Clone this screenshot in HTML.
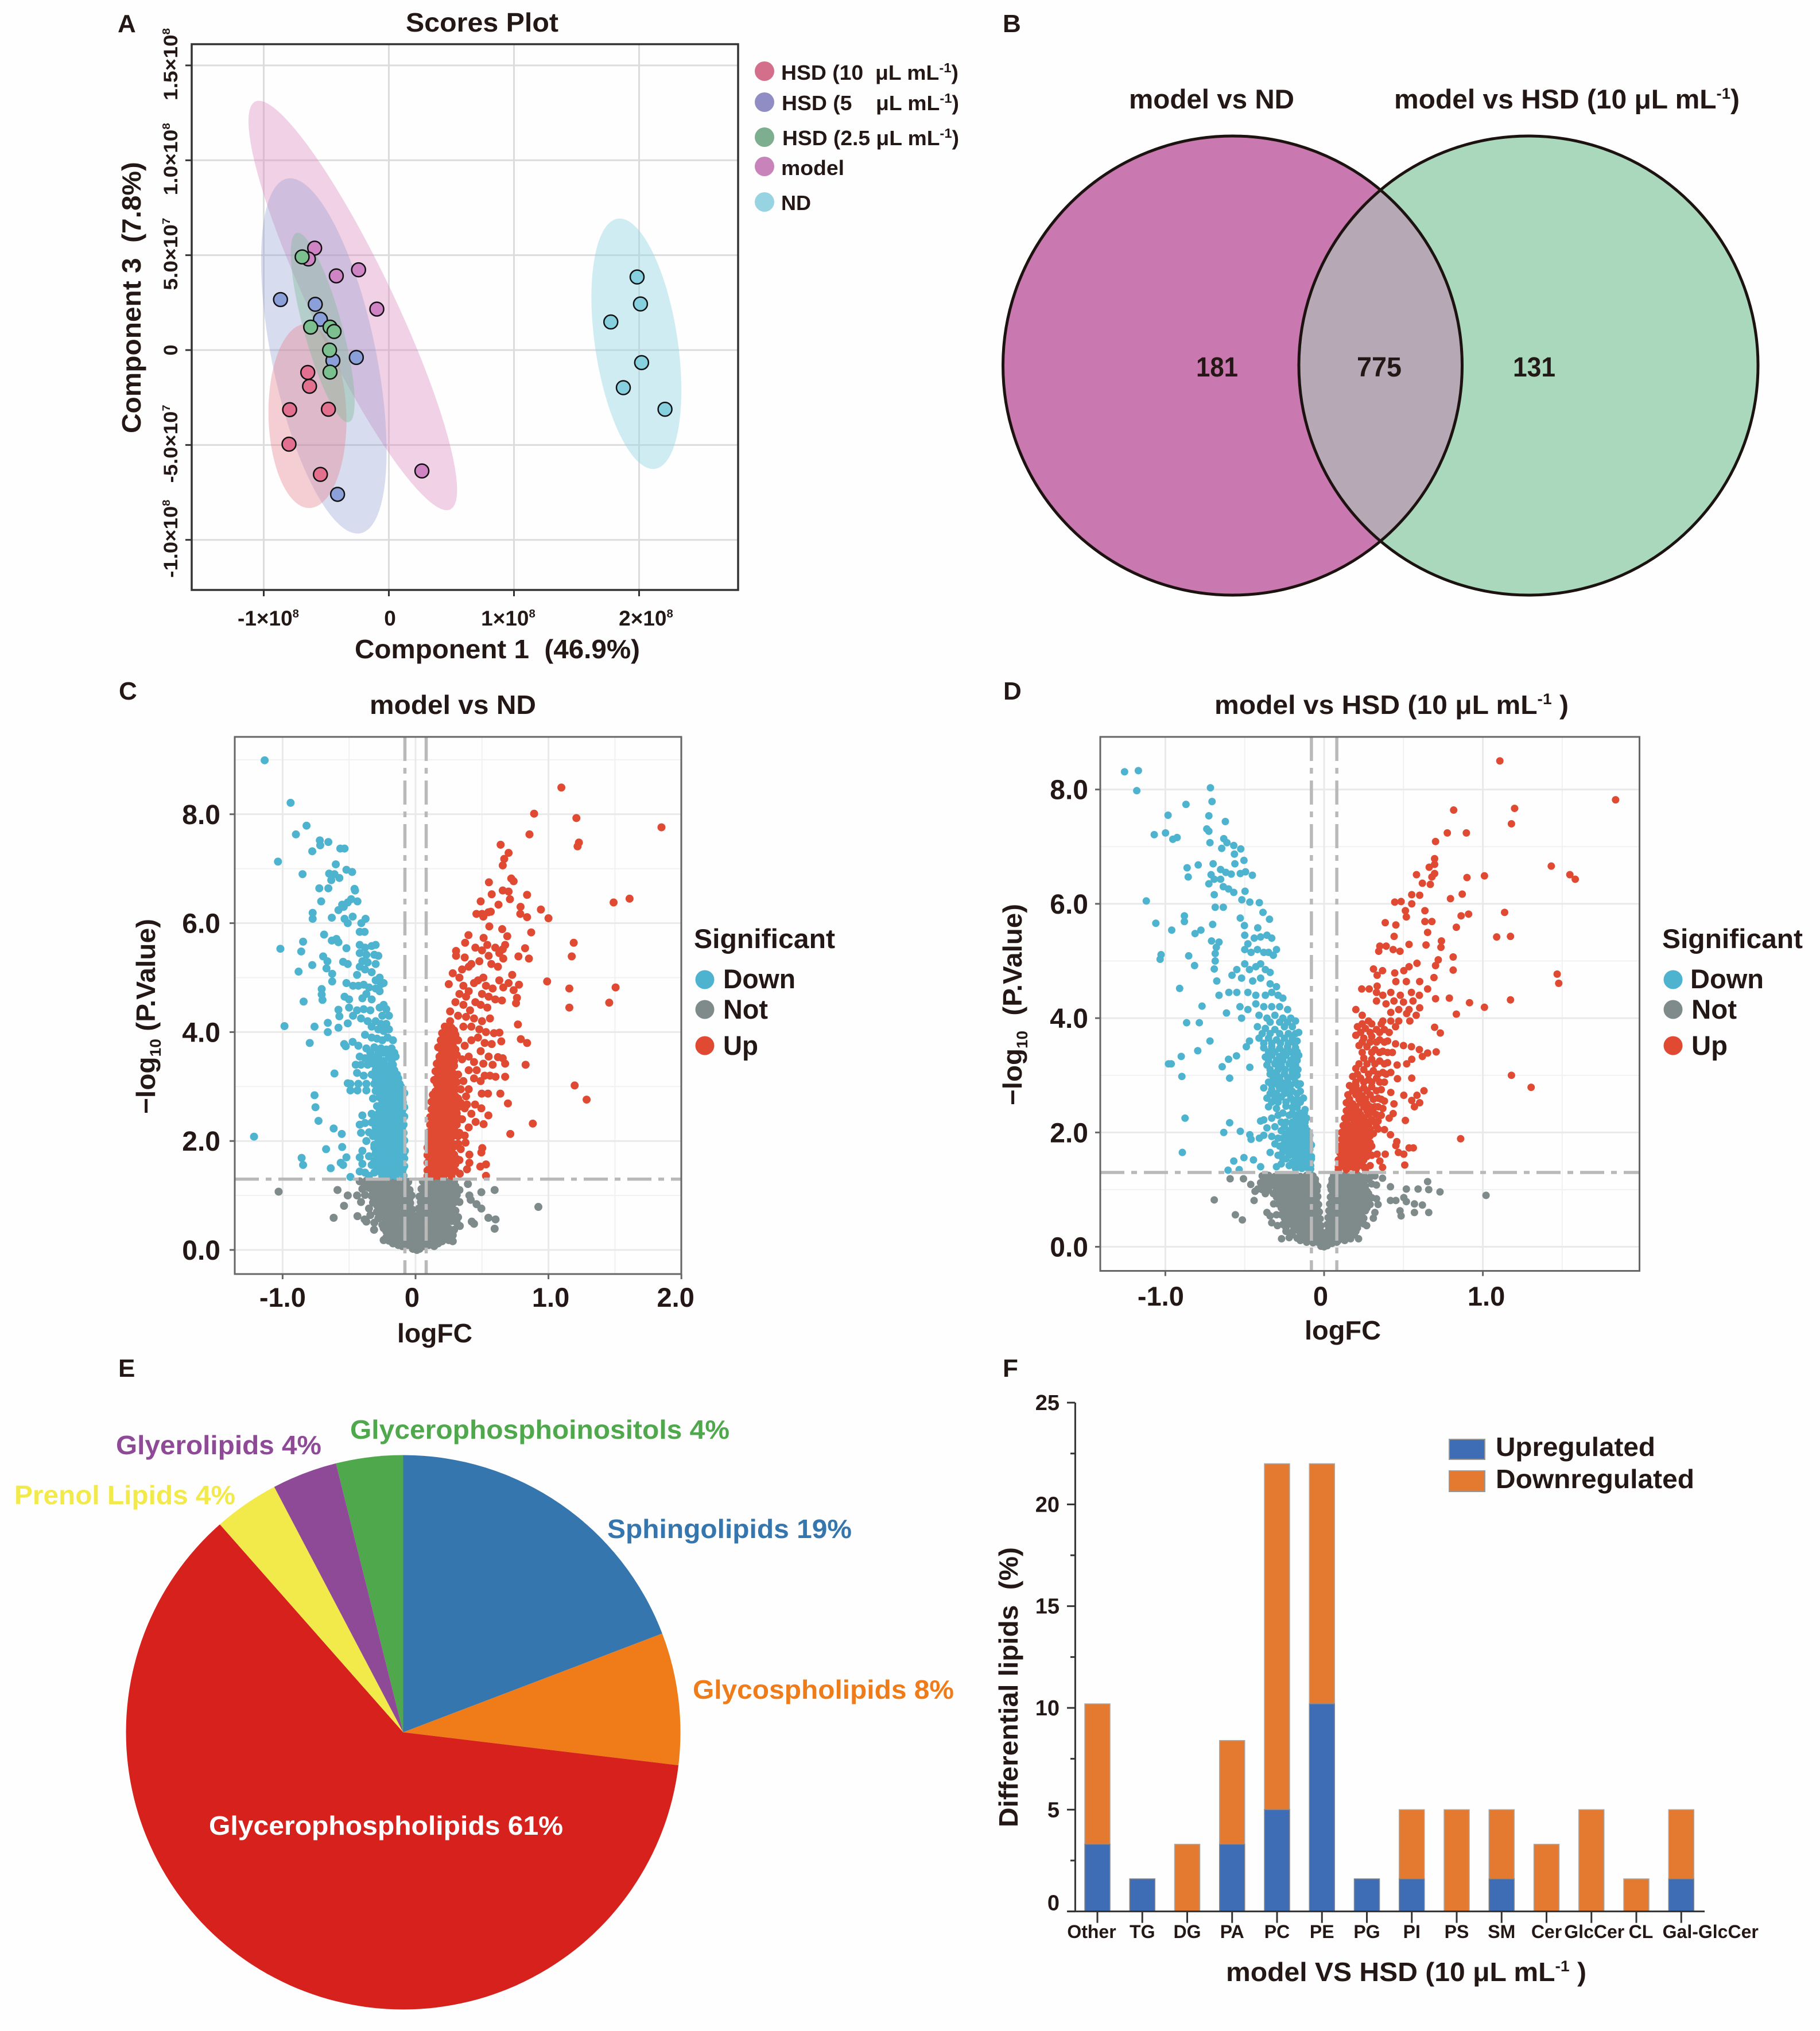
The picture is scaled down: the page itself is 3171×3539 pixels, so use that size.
<!DOCTYPE html>
<html lang="en"><head><meta charset="utf-8"><title>Lipidomics figure</title>
<style>
html,body{margin:0;padding:0;background:#fff}
svg{display:block}
text{font-family:"Liberation Sans",sans-serif;font-weight:bold;fill:#231815}
</style></head><body>
<svg id="fig" xmlns="http://www.w3.org/2000/svg" width="3171" height="3539" viewBox="0 0 3171 3539">
<rect width="3171" height="3539" fill="#fefefe"/>

<!-- Panel letters -->
<text x="205" y="56" font-size="44">A</text>
<text x="1747" y="56" font-size="44">B</text>
<text x="207" y="1219" font-size="44">C</text>
<text x="1748" y="1219" font-size="44">D</text>
<text x="206" y="2399" font-size="44">E</text>
<text x="1747" y="2399" font-size="44">F</text>

<!-- Panel A static -->
<g id="panelA"></g>
<text x="707" y="55" font-size="46" textLength="266" lengthAdjust="spacingAndGlyphs">Scores Plot</text>
<text x="618" y="1147" font-size="46" textLength="497" lengthAdjust="spacingAndGlyphs">Component 1&#160;&#160;(46.9%)</text>
<text transform="translate(245 755) rotate(-90)" x="0" y="0" font-size="46" textLength="473" lengthAdjust="spacingAndGlyphs">Component 3&#160;&#160;(7.8%)</text>
<g font-size="36">
<ellipse cx="1332" cy="124" rx="17" ry="17" fill="#d46f8b"/>
<ellipse cx="1332" cy="178" rx="17" ry="17" fill="#8f8dc4"/>
<ellipse cx="1332" cy="239" rx="17" ry="17" fill="#7dae8f"/>
<ellipse cx="1332" cy="290" rx="17" ry="17" fill="#c884ba"/>
<ellipse cx="1332" cy="352" rx="17" ry="17" fill="#98d3e2"/>
<text x="1361" y="139" textLength="309" lengthAdjust="spacingAndGlyphs">HSD (10&#160;&#160;μL mL<tspan dy="-13" font-size="23">-1</tspan><tspan dy="13">)</tspan></text>
<text x="1362" y="192" textLength="309" lengthAdjust="spacingAndGlyphs">HSD (5&#160;&#160;&#160;&#160;μL mL<tspan dy="-13" font-size="23">-1</tspan><tspan dy="13">)</tspan></text>
<text x="1363" y="253" textLength="308" lengthAdjust="spacingAndGlyphs">HSD (2.5 μL mL<tspan dy="-13" font-size="23">-1</tspan><tspan dy="13">)</tspan></text>
<text x="1361" y="305" textLength="110" lengthAdjust="spacingAndGlyphs">model</text>
<text x="1361" y="366" textLength="52" lengthAdjust="spacingAndGlyphs">ND</text>
</g>

<!-- Panel B Venn -->
<g>
<defs><clipPath id="vennClip"><circle cx="2147.5" cy="637" r="400"/></clipPath></defs>
<circle cx="2147.5" cy="637" r="400" fill="#c978b0"/>
<circle cx="2663" cy="637" r="400" fill="#a9d8bd"/>
<circle cx="2663" cy="637" r="400" fill="#b6a8b4" clip-path="url(#vennClip)"/>
<circle cx="2147.5" cy="637" r="400" fill="none" stroke="#1c1210" stroke-width="5"/>
<circle cx="2663" cy="637" r="400" fill="none" stroke="#1c1210" stroke-width="5"/>
<text x="1967" y="189" font-size="47" textLength="288" lengthAdjust="spacingAndGlyphs">model vs ND</text>
<text x="2429" y="189" font-size="47" textLength="602" lengthAdjust="spacingAndGlyphs">model vs HSD (10 μL mL<tspan dy="-17" font-size="27">-1</tspan><tspan dy="17">)</tspan></text>
<text x="2084" y="656" font-size="48" textLength="73" lengthAdjust="spacingAndGlyphs">181</text>
<text x="2364" y="656" font-size="48" textLength="78" lengthAdjust="spacingAndGlyphs">775</text>
<text x="2636" y="656" font-size="48" textLength="74" lengthAdjust="spacingAndGlyphs">131</text>
</g>

<!-- Panel C static -->
<g id="panelC"></g>
<text x="644" y="1244" font-size="46" textLength="290" lengthAdjust="spacingAndGlyphs">model vs ND</text>
<text x="692" y="2339" font-size="46" textLength="131" lengthAdjust="spacingAndGlyphs">logFC</text>
<text transform="translate(270 1941) rotate(-90)" font-size="46" textLength="340" lengthAdjust="spacingAndGlyphs">−log<tspan dy="10" font-size="27">10</tspan><tspan dy="-10">&#160;(P.Value)</tspan></text>
<g font-size="47">
<text x="1209" y="1652" textLength="246" lengthAdjust="spacingAndGlyphs">Significant</text>
<circle cx="1228" cy="1707" r="16.5" fill="#4db3cf"/>
<circle cx="1228" cy="1759" r="16.5" fill="#7f8a8a"/>
<circle cx="1228" cy="1822" r="16.5" fill="#e04a33"/>
<text x="1260" y="1722" textLength="126" lengthAdjust="spacingAndGlyphs">Down</text>
<text x="1260" y="1775" textLength="78" lengthAdjust="spacingAndGlyphs">Not</text>
<text x="1260" y="1838" textLength="61" lengthAdjust="spacingAndGlyphs">Up</text>
</g>

<!-- Panel D static -->
<g id="panelD"></g>
<text x="2116" y="1244" font-size="46" textLength="617" lengthAdjust="spacingAndGlyphs">model vs HSD (10 μL mL<tspan dy="-17" font-size="27">-1</tspan><tspan dy="17">&#160;)</tspan></text>
<text x="2273" y="2334" font-size="46" textLength="133" lengthAdjust="spacingAndGlyphs">logFC</text>
<text transform="translate(1780 1926) rotate(-90)" font-size="46" textLength="351" lengthAdjust="spacingAndGlyphs">−log<tspan dy="10" font-size="27">10</tspan><tspan dy="-10">&#160;&#160;(P.Value)</tspan></text>
<g font-size="47">
<text x="2896" y="1652" textLength="245" lengthAdjust="spacingAndGlyphs">Significant</text>
<circle cx="2915" cy="1707" r="16.5" fill="#4db3cf"/>
<circle cx="2915" cy="1759" r="16.5" fill="#7f8a8a"/>
<circle cx="2915" cy="1822" r="16.5" fill="#e04a33"/>
<text x="2945" y="1722" textLength="128" lengthAdjust="spacingAndGlyphs">Down</text>
<text x="2947" y="1775" textLength="79" lengthAdjust="spacingAndGlyphs">Not</text>
<text x="2947" y="1838" textLength="63" lengthAdjust="spacingAndGlyphs">Up</text>
</g>

<!-- Panel E -->
<g id="panelE"></g>
<g font-size="46">
<text x="610" y="2507" textLength="661" lengthAdjust="spacingAndGlyphs" style="fill:#4fa84c">Glycerophosphoinositols 4%</text>
<text x="202" y="2534" textLength="358" lengthAdjust="spacingAndGlyphs" style="fill:#8e4a97">Glyerolipids 4%</text>
<text x="25" y="2621" textLength="385" lengthAdjust="spacingAndGlyphs" style="fill:#f2e94a">Prenol Lipids 4%</text>
<text x="1058" y="2680" textLength="426" lengthAdjust="spacingAndGlyphs" style="fill:#3476ad">Sphingolipids 19%</text>
<text x="1207" y="2960" textLength="455" lengthAdjust="spacingAndGlyphs" style="fill:#ef7c19">Glycospholipids 8%</text>
<text x="364" y="3197" textLength="617" lengthAdjust="spacingAndGlyphs" style="fill:#fff">Glycerophospholipids 61%</text>
</g>

<!-- Panel F -->
<g id="panelF"></g>
<text x="2136" y="3452" font-size="46" textLength="628" lengthAdjust="spacingAndGlyphs">model VS HSD (10 μL mL<tspan dy="-17" font-size="27">-1</tspan><tspan dy="17">&#160;)</tspan></text>
<text transform="translate(1773 3184) rotate(-90)" font-size="46" textLength="488" lengthAdjust="spacingAndGlyphs">Differential lipids&#160;&#160;(%)</text>
<g font-size="46">
<rect x="2525" y="2508" width="62" height="35" fill="#3f6db5" stroke="#999" stroke-width="2"/>
<rect x="2525" y="2563" width="62" height="36" fill="#e37a30" stroke="#999" stroke-width="2"/>
<text x="2606" y="2537" textLength="278" lengthAdjust="spacingAndGlyphs">Upregulated</text>
<text x="2606" y="2593" textLength="346" lengthAdjust="spacingAndGlyphs">Downregulated</text>
</g>
</svg>

<script>
/* ===== Panel A data (scores, units of 1e8) ===== */
const scoreXTicks=[-1,0,1,2];
const scoreXLabels=['-1×10^8','0','1×10^8','2×10^8'];
const scoreYTicks=[1.5,1,0.5,0,-0.5,-1];
const scoreYLabels=['1.5×10^8','1.0×10^8','5.0×10^7','0','-5.0×10^7','-1.0×10^8'];
const scoreGroups=['ND','model','HSD5','HSD10','HSD2.5'];
const scoresND=[[1.984,0.385],[2.011,0.243],[1.774,0.148],[2.02,-0.066],[1.874,-0.198],[2.207,-0.312]];
const scoresModel=[[-0.593,0.537],[-0.643,0.48],[-0.42,0.391],[-0.242,0.423],[-0.096,0.216],[0.264,-0.637]];
const scoresHSD5=[[-0.866,0.266],[-0.588,0.241],[-0.547,0.162],[-0.447,-0.055],[-0.26,-0.039],[-0.41,-0.76]];
const scoresHSD10=[[-0.648,-0.118],[-0.634,-0.191],[-0.793,-0.314],[-0.483,-0.312],[-0.798,-0.496],[-0.547,-0.655]];
const scoresHSD25=[[-0.693,0.491],[-0.625,0.121],[-0.47,0.121],[-0.438,0.098],[-0.474,0],[-0.47,-0.116]];

/* ===== Panel C data ===== */
const cXTicks=[-1,0,1,2];
const cXLabels=['-1.0','0','1.0','2.0'];
const cYTicks=[0,2,4,6,8];
const cYLabels=['0.0','2.0','4.0','6.0','8.0'];
const cDown=[[-1.135,8.99],[-.94,8.21],[-.82,7.79],[-.9,7.63],[-1.035,7.13],[-.85,6.9],[-.72,7.52],[-.717,7.43],[-.656,7.49],[-.777,7.32],[-.566,7.37],[-.534,7.37],[-.6,7.08],[-.52,6.98],[-.477,6.94],[-.65,6.91],[-.61,6.9],[-.573,6.83],[-.634,6.79],[-.724,6.64],[-.656,6.64],[-.459,6.63],[-.455,6.6],[-.71,6.4],[-.552,6.34],[-.437,6.4],[-.484,6.44],[-.51,6.38],[-.54,6.3],[-.58,6.24],[-.774,6.19],[-.774,6.08],[-.63,6.1],[-.473,6.12],[-.376,6.08],[-.534,6.08],[-.51,6],[-.408,6],[-.383,5.84],[-.42,5.84],[-.688,5.79],[-.846,5.66],[-1.017,5.53],[-.86,5.48],[-.63,5.68],[-.595,5.71],[-.58,5.65],[-.88,5.11],[-.777,5.23],[-.695,5.39],[-.663,5.3],[-.67,5.17],[-.627,5.07],[-.627,4.93],[-.545,5.29],[-.51,5.25],[-.52,5.54],[-.842,4.56],[-.986,4.11],[-.76,4.1],[-.66,4.17],[-.66,4],[-.706,4.79],[-.706,4.69],[-.7,4.59],[-.796,3.8],[-.58,4.41],[-.573,4.29],[-.58,4.08],[-.51,4.16],[-.534,4.65],[-.537,3.78],[-.525,3.74],[-.473,3.82],[-.61,3.24],[-.76,2.84],[-.753,2.62],[-.73,2.37],[-.616,2.23],[-.555,2.13],[-1.215,2.08],[-.857,1.69],[-.846,1.56],[-.673,1.85],[-.552,1.89],[-.638,1.5],[-.563,1.6],[-.52,1.7],[-.545,1.56],[-.49,1.34],[-.51,3.06],[-.49,3.05],[-.49,2.93],[-.437,2.93],
[-.42,5.6],[-.38,5.55],[-.33,5.58],[-.3,5.6],[-.42,5.45],[-.37,5.42],[-.31,5.42],[-.28,5.4],[-.4,5.3],[-.36,5.28],[-.3,5.25],[-.42,5.2],[-.38,5.15],[-.44,5.05],[-.33,5.1],
[-.52,4.9],[-.47,4.85],[-.43,4.85],[-.39,4.87],[-.35,4.82],[-.3,4.95],[-.27,5],[-.26,4.88],[-.3,4.8],[-.24,4.9],[-.27,4.75],[-.37,4.7],[-.4,4.62],[-.33,4.6],[-.5,4.6],
[-.5,4.45],[-.44,4.4],[-.39,4.42],[-.34,4.4],[-.27,4.45],[-.24,4.5],[-.22,4.42],[-.25,4.3],[-.2,4.3],[-.47,4.3],[-.41,4.25],[-.36,4.2],[-.3,4.2],[-.26,4.15],[-.22,4.15],[-.33,4.1],[-.28,4.05],[-.24,4.02],[-.2,4.05],
[-.38,3.95],[-.33,3.9],[-.29,3.88],[-.25,3.85],[-.21,3.9],[-.17,3.85],[-.43,3.75],[-.37,3.7],[-.31,3.72],[-.26,3.7],[-.22,3.68],[-.18,3.7],[-.42,3.55],[-.38,3.52],[-.33,3.55],[-.28,3.55],[-.2,3.55],[-.15,3.55],
[-.45,3.4],[-.41,3.4],[-.36,3.4],[-.32,3.42],[-.27,3.4],[-.22,3.38],[-.17,3.4],[-.44,3.25],[-.39,3.2],[-.33,3.22],[-.28,3.25],[-.23,3.22],[-.18,3.25],[-.14,3.22],[-.43,3.05],[-.37,3.05],[-.31,3.05],[-.26,3.08],[-.21,3.08],[-.16,3.05],[-.12,3.05],
[-.37,2.93],[-.3,2.92],[-.25,2.94],[-.2,2.92],[-.16,2.93],[-.12,2.9],[-.085,2.88],[-.32,2.78],[-.27,2.8],[-.22,2.77],[-.18,2.79],[-.14,2.76],[-.1,2.78],[-.29,2.64],[-.25,2.62],[-.2,2.65],[-.16,2.63],[-.12,2.64],[-.085,2.62],[-.4,2.47],[-.33,2.5],[-.29,2.48],[-.24,2.5],[-.19,2.47],[-.15,2.49],[-.11,2.48],[-.085,2.45],[-.42,2.3],[-.38,2.33],[-.33,2.34],[-.28,2.32],[-.24,2.34],[-.2,2.32],[-.16,2.33],[-.12,2.31],[-.09,2.3],[-.41,2.15],[-.35,2.16],[-.3,2.18],[-.26,2.17],[-.21,2.18],[-.17,2.16],[-.13,2.17],[-.09,2.15],[-.37,2],[-.28,2.03],[-.24,2.01],[-.2,2.03],[-.16,2],[-.12,2.02],[-.085,2.01],[-.4,1.82],[-.31,1.88],[-.26,1.86],[-.22,1.87],[-.18,1.85],[-.14,1.86],[-.1,1.85],[-.08,1.82],[-.42,1.7],[-.35,1.72],[-.29,1.72],[-.25,1.71],[-.2,1.72],[-.16,1.7],[-.12,1.71],[-.085,1.68],[-.4,1.58],[-.33,1.56],[-.28,1.56],[-.23,1.58],[-.19,1.55],[-.15,1.57],[-.11,1.56],[-.085,1.54],[-.42,1.44],[-.38,1.42],[-.31,1.42],[-.27,1.44],[-.22,1.42],[-.18,1.43],[-.14,1.41],[-.1,1.43],[-.09,1.36],[-.35,1.36],[-.25,1.36],[-.2,1.35],[-.15,1.36]];
const cDownCoreRows=[[1.49,[-.29,-.25,-.2,-.16,-.12,-.095]],[1.63,[-.31,-.27,-.23,-.18,-.14,-.1]],[1.78,[-.3,-.24,-.2,-.16,-.12,-.09]],[1.93,[-.31,-.26,-.22,-.18,-.14,-.1]],[2.09,[-.32,-.28,-.23,-.19,-.15,-.11]],[2.25,[-.3,-.26,-.22,-.18,-.14,-.1]],[2.41,[-.31,-.27,-.22,-.17,-.13,-.095]],[2.56,[-.27,-.22,-.18,-.14,-.1]],[2.71,[-.25,-.2,-.16,-.12,-.095]],[2.85,[-.27,-.23,-.18,-.14,-.11]],[3,[-.29,-.24,-.18,-.14,-.11]],[3.15,[-.3,-.25,-.2,-.16,-.13]],[3.3,[-.3,-.25,-.2,-.16]],[3.47,[-.35,-.3,-.24,-.18]],[3.62,[-.34,-.28,-.24,-.2,-.16]]];
const cUp=[[1.097,8.49],[.892,8.01],[1.21,7.93],[1.85,7.76],[.857,7.63],[1.229,7.48],[1.219,7.41],[.64,7.44],[.7,7.29],[.667,7.18],[.656,7.06],[.552,6.75],[.72,6.82],[.738,6.77],[.656,6.6],[.7,6.58],[.839,6.52],[.573,6.53],[.49,6.4],[.624,6.34],[.71,6.44],[1.49,6.38],[1.61,6.45],[.943,6.25],[1,6.09],[.79,6.3],[.839,6.11],[.788,6.17],[.458,6.17],[.5,6.17],[.548,6.2],[.566,6.21],[.51,6.12],[.555,5.94],[.652,5.89],[.87,5.83],[.69,5.76],[.398,5.78],[.512,5.73],[.373,5.64],[1.19,5.64],[1.175,5.39],[.824,5.54],[.774,5.39],[.853,5.35],[.674,5.6],[.656,5.52],[.305,5.49],[.305,5.4],[.37,5.37],[.99,4.93],[1.505,4.82],[1.157,4.8],[1.457,4.54],[1.157,4.45],[.727,5.05],[.778,4.87],[.738,4.77],[.763,4.63],[.756,4.53],[.77,4.14],[.792,3.87],[.839,3.8],[.828,3.4],[1.197,3.02],[1.287,2.76],[.882,2.32],[.713,2.13],[.695,2.69],[.638,2.87],[.498,2.87],[.545,2.87],[.674,3.18],[.602,3.18],[.656,3.52],[.674,3.42],[.62,3.54],[.631,3.99],[.645,3.83],[.573,3.78],[.548,2.47],[.512,2.31],[.452,2.35],[.495,2.6],[.448,2.67],[.387,2.67],[.502,1.87],[.495,1.79],[.376,1.97],[.487,1.53],[.53,1.57],[.53,1.36],[.405,1.75],[.387,1.48],[.405,1.6],[.333,1.4],
[.45,5.55],[.5,5.5],[.54,5.6],[.6,5.55],[.63,5.45],[.55,5.4],[.48,5.3],[.42,5.25],[.35,5.15],[.28,5.08],[.33,5],[.4,5.2],[.57,5.25],[.62,5.2],[.66,5.35],[.51,5],[.47,4.95],[.53,4.85],[.58,4.8],[.63,4.95],[.66,4.82],[.7,4.9],[.36,4.85],[.4,4.75],[.44,4.9],[.25,4.88],[.33,4.7],[.38,4.65],[.5,4.7],[.55,4.65],[.6,4.6],[.65,4.58],[.45,4.55],[.49,4.5],[.54,4.45],[.3,4.55],[.36,4.5],[.41,4.4],[.26,4.38],[.32,4.3],[.38,4.28],[.44,4.25],[.5,4.2],[.56,4.25],[.42,4.1],[.48,4.05],[.53,4],[.59,3.98],[.36,4.1],[.47,3.9],[.52,3.8],[.42,3.85],[.37,3.75],[.49,3.65],[.55,3.55],[.4,3.55],[.44,3.45],[.51,3.42],[.58,3.4],[.35,3.5],[.46,3.3],[.52,3.2],[.4,3.3],[.36,3.1],[.44,3.15],[.49,3.1],[.56,3.2],[.34,2.95],[.4,2.95],[.38,2.82],[.32,2.62],[.37,2.6],[.42,2.5],[.35,2.4],[.4,2.25],[.33,2.15],[.37,2.1],[.34,1.85],[.29,1.75],[.33,1.65],
[.26,4.2],[.22,4.1],[.27,4.08],[.2,3.98],[.25,3.95],[.3,3.95],[.19,3.85],[.23,3.82],[.28,3.8],[.32,3.85],[.17,3.72],[.21,3.68],[.26,3.66],[.3,3.68],[.18,3.55],[.22,3.55],[.27,3.52],[.31,3.58],[.16,3.42],[.2,3.4],[.25,3.4],[.29,3.38],[.15,3.28],[.19,3.25],[.23,3.27],[.28,3.25],[.32,3.22],[.14,3.12],[.18,3.12],[.22,3.14],[.27,3.1],[.31,3.08],[.17,2.98],[.21,2.97],[.26,2.98],[.3,2.95],[.13,2.85],[.17,2.84],[.22,2.85],[.26,2.84],[.3,2.82],[.12,2.72],[.16,2.7],[.2,2.72],[.25,2.7],[.29,2.68],[.34,2.7],[.12,2.58],[.16,2.57],[.21,2.58],[.25,2.56],[.29,2.55],[.11,2.44],[.15,2.44],[.2,2.45],[.24,2.43],[.28,2.44],[.32,2.42],[.11,2.3],[.15,2.3],[.19,2.32],[.23,2.3],[.27,2.29],[.31,2.3],[.1,2.16],[.14,2.16],[.18,2.17],[.22,2.16],[.26,2.15],[.3,2.15],[.1,2.02],[.14,2.03],[.18,2.03],[.22,2.02],[.26,2.01],[.09,1.88],[.13,1.88],[.17,1.89],[.21,1.88],[.25,1.87],[.29,1.9],[.09,1.74],[.13,1.74],[.17,1.75],[.21,1.73],[.25,1.72],[.09,1.6],[.13,1.6],[.17,1.61],[.21,1.6],[.26,1.58],[.3,1.58],[.09,1.46],[.13,1.46],[.17,1.47],[.21,1.46],[.25,1.45],[.3,1.45],[.09,1.36],[.13,1.35],[.17,1.36],[.21,1.36],[.27,1.36]];
const cUpCoreRows=[[1.41,[.11,.15,.19,.23,.27]],[1.53,[.11,.15,.19,.23,.28]],[1.67,[.11,.15,.19,.23,.27,.31]],[1.81,[.11,.15,.19,.23,.27]],[1.95,[.11,.16,.2,.24,.28,.32]],[2.09,[.12,.16,.2,.24,.28,.32]],[2.23,[.13,.17,.21,.25,.29]],[2.37,[.13,.17,.22,.26,.3]],[2.51,[.14,.18,.23,.27,.31]],[2.65,[.14,.18,.22,.27,.31]],[2.78,[.15,.19,.24,.28,.32]],[2.91,[.15,.19,.23,.28]],[3.05,[.16,.2,.24,.29]],[3.2,[.17,.21,.25,.3]],[3.34,[.18,.22,.27]],[3.47,[.18,.2,.25,.29]],[3.62,[.2,.24,.28]],[3.75,[.19,.23,.28]],[3.9,[.21,.26,.3]],[4.03,[.24,.29]]];
const cNot=[[-1.03,1.07],[.924,.79],[.595,1.1],[.602,.56],[.595,.39],[.548,.59],[.495,1.06],[.394,1.21],[.3,1.17],[.405,1],[.415,.92],[.459,.84],[.495,.76],[.423,.52],[.44,.48],[.333,.44],[-.587,1.1],[-.51,1],[-.538,.81],[-.616,.59],[-.437,.62],[-.383,.56],[-.312,.37],
[-.42,1.26],[-.37,1.27],[-.32,1.25],[-.27,1.26],[-.22,1.27],[-.17,1.25],[-.13,1.26],[-.09,1.24],[-.055,1.25],[.055,1.26],[.09,1.25],[.13,1.27],[.17,1.25],[.21,1.26],[.25,1.25],[.29,1.26],
[-.4,1.12],[-.35,1.14],[-.3,1.11],[-.25,1.13],[-.2,1.12],[-.15,1.14],[-.11,1.11],[-.07,1.13],[-.045,1.1],[.045,1.12],[.07,1.1],[.11,1.13],[.16,1.12],[.2,1.1],[.24,1.13],[.28,1.12],[.33,1.1],
[-.44,1],[-.38,1.01],[-.33,.99],[-.28,1],[-.23,.98],[-.18,1.01],[-.13,.99],[-.09,1],[-.05,.98],[-.03,1],[.03,.98],[.06,1],[.1,.99],[.14,1.01],[.19,.98],[.23,1],[.27,.99],[.31,1.01],
[-.41,.88],[-.32,.87],[-.26,.89],[-.21,.86],[-.16,.88],[-.11,.87],[-.07,.89],[-.04,.86],[.04,.88],[.07,.86],[.09,.89],[.13,.87],[.17,.88],[.22,.86],[.26,.89],[.29,.87],[.33,.88],
[-.35,.76],[-.27,.75],[-.22,.77],[-.17,.74],[-.13,.76],[-.09,.75],[-.05,.77],[-.025,.74],[.025,.76],[.05,.74],[.08,.77],[.12,.75],[.16,.76],[.2,.74],[.25,.77],[.28,.75],[.3,.72],
[-.34,.64],[-.25,.63],[-.2,.65],[-.16,.62],[-.12,.64],[-.08,.63],[-.04,.65],[-.02,.62],[.02,.64],[.04,.62],[.07,.65],[.11,.63],[.15,.64],[.19,.62],[.24,.65],[.27,.63],[.32,.6],
[-.37,.52],[-.31,.5],[-.22,.53],[-.17,.5],[-.13,.52],[-.09,.51],[-.06,.53],[-.03,.5],[-.012,.52],[.012,.5],[.03,.52],[.06,.51],[.1,.53],[.14,.5],[.18,.52],[.22,.5],[.27,.53],[.31,.5],
[-.24,.4],[-.19,.39],[-.14,.41],[-.1,.38],[-.06,.4],[-.03,.39],[-.005,.36],[.005,.4],[.03,.38],[.06,.41],[.09,.39],[.13,.4],[.17,.38],[.2,.41],[.25,.39],[.29,.37],
[-.21,.28],[-.18,.26],[-.14,.29],[-.1,.27],[-.07,.28],[-.04,.26],[-.02,.29],[0,.25],[.02,.27],[.04,.29],[.07,.26],[.1,.28],[.14,.27],[.19,.29],[.24,.26],[.28,.27],
[-.24,.18],[-.2,.17],[-.15,.16],[-.11,.18],[-.07,.15],[-.03,.17],[0,.14],[.03,.16],[.07,.18],[.11,.15],[.15,.17],[.2,.16],[.25,.18],[.28,.16],
[-.13,.09],[-.1,.07],[-.06,.09],[-.03,.07],[0,.06],[.03,.08],[.06,.07],[.1,.09],[.14,.07],[-.02,.02],[.01,0],[.03,.02]];
const cNotCoreRows=[[1.19,[-.38,-.33,-.28,-.24,-.19,-.15,-.11,-.07,.07,.11,.15,.19,.23,.27]],[1.06,[-.32,-.27,-.23,-.18,-.13,-.09,-.06,.06,.09,.13,.18,.22,.26]],[.94,[-.3,-.25,-.2,-.155,-.11,-.07,-.045,.045,.08,.115,.16,.2,.245,.28]],[.82,[-.29,-.24,-.19,-.145,-.1,-.07,-.045,.045,.07,.105,.145,.19,.24]],[.7,[-.29,-.235,-.185,-.145,-.105,-.07,-.035,.035,.065,.1,.14,.18,.225,.265]],[.58,[-.28,-.23,-.18,-.14,-.1,-.06,-.03,.03,.055,.09,.13,.17,.21,.25]],[.46,[-.25,-.2,-.155,-.115,-.08,-.045,-.015,.015,.045,.075,.115,.155,.19,.23]],[.34,[-.22,-.165,-.12,-.085,-.05,-.02,.015,.05,.08,.115,.155,.19,.22]],[.23,[-.22,-.17,-.125,-.09,-.05,-.015,.015,.05,.09,.125,.17,.225]],[.12,[-.17,-.12,-.08,-.045,-.015,.015,.045,.08,.12,.17]]];

/* ===== Panel D data ===== */
const dXTicks=[-1,0,1];
const dXLabels=['-1.0','0','1.0'];
const dYTicks=[0,2,4,6,8];
const dYLabels=['0.0','2.0','4.0','6.0','8.0'];
const dDown=[[-1.257,8.31],[-1.17,8.33],[-1.18,7.98],[-.716,8.03],[-.706,7.79],[-.87,7.74],[-.983,7.55],[-.726,7.54],[-.622,7.44],[-1.07,7.21],[-.999,7.24],[-.953,7.13],[-.926,7.16],[-.739,7.31],[-.726,7.27],[-.719,7.07],[-.632,7.14],[-.612,7.07],[-.569,7.02],[-.525,6.96],[-.565,6.87],[-.645,6.97],[-.505,6.76],[-.562,6.7],[-.863,6.63],[-.793,6.68],[-.699,6.7],[-.856,6.47],[-.652,6.6],[-.619,6.55],[-.585,6.52],[-.528,6.53],[-.495,6.56],[-.452,6.5],[-.712,6.51],[-.692,6.43],[-.726,6.35],[-.652,6.43],[-.692,6.16],[-.635,6.3],[-.602,6.26],[-.569,6.2],[-.498,6.22],[-1.12,6.05],[-.518,6.07],[-.468,6.03],[-.408,6.02],[-.686,5.94],[-.635,5.94],[-.88,5.79],[-.88,5.69],[-1.06,5.66],[-.96,5.54],[-.813,5.48],[-.776,5.54],[-.385,5.85],[-.344,5.73],[-.528,5.75],[-.702,5.64],[-.502,5.62],[-.418,5.58],[-.709,5.35],[-.662,5.33],[-.679,5.24],[-1.027,5.11],[-1.033,5.03],[-.853,5.09],[-.686,5.13],[-.686,5],[-.816,4.92],[-.692,4.86],[-.676,4.65],[-.91,4.52],[-.662,4.4],[-.769,4.21],[-.615,4.09],[-.866,3.92],[-.786,3.92],[-.719,3.6],[-.796,3.43],[-.9,3.33],[-.98,3.2],[-.963,3.2],[-.896,2.98],[-.642,3.15],[-.602,3.28],[-.552,3.34],[-.595,2.95],[-.468,3.14],[-.876,2.25],[-.595,2.17],[-.632,2],[-.528,2.02],[-.893,1.65],[-.569,1.5],[-.505,1.56],[-.605,1.34],[-.535,1.35],[-.445,1.52],[-.4,1.4],[-.3,1.4],[-.468,1.96],[-.4,2.2],[-.46,1.88],[-.408,1.9],
[-.5,5.45],[-.48,5.3],[-.44,5.4],[-.4,5.42],[-.36,5.45],[-.33,5.4],[-.5,5.2],[-.46,5.15],[-.42,5.2],[-.38,5.15],[-.35,5.15],[-.32,5.1],[-.3,5.2],[-.5,4.95],[-.55,4.85],[-.47,4.85],[-.43,4.9],[-.4,4.95],[-.37,4.85],[-.34,4.8],[-.58,4.75],[-.52,4.7],[-.45,4.65],[-.4,4.7],[-.34,4.6],[-.3,4.55],[-.6,4.45],[-.55,4.45],[-.48,4.45],[-.43,4.4],[-.37,4.4],[-.33,4.45],[-.29,4.4],[-.26,4.35],[-.53,4.2],[-.48,4.15],[-.43,4.25],[-.38,4.2],[-.33,4.2],[-.28,4.2],[-.23,4.15],[-.52,4],[-.41,4.05],[-.36,4],[-.31,4.05],[-.26,4],[-.21,4],[-.18,3.95],[-.42,3.85],[-.37,3.82],[-.31,3.8],[-.25,3.85],[-.2,3.85],[-.16,3.75],[-.47,3.6],[-.41,3.65],[-.35,3.65],[-.3,3.62],[-.25,3.65],[-.2,3.65],[-.17,3.6],[-.49,3.5],[-.38,3.48],[-.33,3.5],[-.28,3.47],[-.23,3.5],[-.18,3.48],[-.37,3.32],[-.33,3.35],[-.28,3.33],[-.24,3.35],[-.19,3.32],[-.16,3.35],[-.36,3.18],[-.31,3.2],[-.27,3.18],[-.22,3.2],[-.18,3.18],[-.34,3.02],[-.3,3.05],[-.25,3.03],[-.2,3.05],[-.17,3],[-.35,2.88],[-.31,2.9],[-.27,2.88],[-.23,2.9],[-.18,2.88],[-.15,2.85],[-.38,2.78],[-.33,2.75],[-.28,2.77],[-.24,2.75],[-.2,2.72],[-.15,2.72],[-.36,2.6],[-.31,2.6],[-.27,2.62],[-.21,2.6],[-.17,2.58],[-.13,2.6],[-.35,2.45],[-.3,2.42],[-.24,2.46],[-.2,2.44],[-.17,2.44],[-.12,2.4],[-.38,2.22],[-.33,2.25],[-.29,2.3],[-.22,2.3],[-.18,2.28],[-.14,2.28],[-.11,2.25],
[-.36,2.08],[-.31,2.1],[-.25,2.1],[-.2,2.12],[-.16,2.12],[-.12,2.1],[-.38,1.95],[-.33,1.93],[-.29,1.9],[-.24,1.97],[-.2,1.97],[-.16,1.97],[-.12,1.97],[-.09,1.95],[-.31,1.8],[-.28,1.76],[-.24,1.84],[-.2,1.84],[-.16,1.84],[-.12,1.84],[-.09,1.82],[-.24,1.72],[-.2,1.72],[-.16,1.72],[-.12,1.72],[-.09,1.7],[-.34,1.65],[-.29,1.6],[-.22,1.6],[-.18,1.6],[-.14,1.6],[-.1,1.6],[-.08,1.58],[-.2,1.48],[-.16,1.48],[-.12,1.48],[-.09,1.48],[-.27,1.45],[-.18,1.37],[-.14,1.37],[-.1,1.37],[-.085,1.36]];
const dDownCoreRows=[[1.42,[-.22,-.18,-.14,-.11,-.085]],[1.54,[-.26,-.24,-.18,-.14,-.1,-.08]],[1.66,[-.26,-.22,-.18,-.14,-.1]],[1.78,[-.26,-.22,-.18,-.14,-.105,-.08]],[1.9,[-.26,-.22,-.18,-.14,-.105]],[2.03,[-.27,-.22,-.18,-.14,-.105]],[2.18,[-.27,-.24,-.2,-.16,-.12]],[2.34,[-.26,-.2,-.155,-.125]],[2.53,[-.33,-.29,-.24,-.19,-.15]],[2.68,[-.34,-.3,-.25,-.22,-.17]],[2.83,[-.33,-.29,-.25,-.21,-.165]],[2.96,[-.32,-.28,-.23,-.19]],[3.1,[-.34,-.29,-.245,-.2,-.165]],[3.26,[-.35,-.3,-.26,-.21,-.17]],[3.41,[-.35,-.31,-.255,-.21,-.17]],[3.56,[-.38,-.33,-.275,-.225,-.185]],[3.73,[-.39,-.34,-.28,-.225,-.18]],[3.93,[-.34,-.28,-.23]]];
const dUp=[[1.107,8.5],[1.2,7.67],[1.836,7.82],[.816,7.64],[1.18,7.4],[.776,7.24],[.896,7.24],[.702,7.09],[.696,6.79],[.696,6.69],[.662,6.64],[1.431,6.66],[1.548,6.51],[1.582,6.43],[.582,6.51],[.696,6.53],[.679,6.47],[1.01,6.49],[.9,6.46],[.619,6.36],[.669,6.34],[.87,6.17],[.796,6.09],[.552,6.16],[.602,6.15],[.445,6.03],[.485,6.04],[.552,6],[.512,5.88],[.635,5.88],[1.137,5.85],[.91,5.82],[.863,5.79],[.833,5.59],[.385,5.67],[.452,5.63],[.635,5.69],[.679,5.69],[.518,5.77],[.652,5.5],[.441,5.43],[1.087,5.42],[1.174,5.43],[.535,5.29],[.739,5.35],[.736,5.24],[.642,5.28],[.351,5.26],[.391,5.26],[.344,5.17],[.435,5.2],[.478,5.17],[.813,5.07],[.719,5.02],[.702,4.92],[.813,4.84],[.585,4.96],[.535,4.9],[1.468,4.77],[1.478,4.61],[.311,4.86],[.334,4.75],[.368,4.83],[.445,4.79],[.502,4.83],[.518,4.64],[.452,4.64],[.602,4.64],[.692,4.71],[.237,4.51],[.284,4.51],[.334,4.56],[.652,4.51],[.702,4.34],[.789,4.35],[.916,4.27],[1.01,4.19],[1.174,4.32],[.833,4.07],[.696,3.84],[.732,3.74],[.2,4.15],[.602,4.18],[.535,4.15],[1.18,3],[1.304,2.79],[.86,1.89],[.706,3.41],[.652,3.39],[.619,3.33],[.552,3.28],[.462,2.94],[.552,2.95],[.629,2.73],[.585,2.65],[.502,2.65],[.552,2.56],[.602,2.52],[.569,2.45],[.512,2.21],[.435,2.33],[.452,1.77],[.458,1.84],[.418,1.96],[.535,1.73],[.562,1.73],[.468,1.65],[.502,1.62],[.508,1.43],[.385,1.62],[.334,1.62],[.351,1.5],[.368,1.39],
[.33,4.45],[.37,4.4],[.42,4.45],[.48,4.4],[.55,4.45],[.6,4.4],[.33,4.3],[.39,4.25],[.44,4.3],[.5,4.28],[.56,4.3],[.42,4.1],[.47,4.15],[.52,4.08],[.58,4.05],[.24,4.05],[.28,3.95],[.37,3.95],[.42,3.95],[.47,3.95],[.54,3.95],[.21,3.85],[.26,3.82],[.33,3.8],[.38,3.8],[.45,3.85],[.25,3.65],[.3,3.68],[.35,3.62],[.2,3.7],[.4,3.6],[.45,3.55],[.5,3.52],[.55,3.5],[.6,3.45],[.22,3.52],[.27,3.5],[.32,3.45],[.37,3.42],[.43,3.4],[.25,3.3],[.3,3.28],[.35,3.25],[.4,3.22],[.46,3.18],[.52,3.2],[.2,3.12],[.25,3.1],[.31,3.08],[.37,3.05],[.42,3.05],[.18,2.98],[.23,2.95],[.28,2.92],[.33,2.95],[.38,2.88],[.16,2.82],[.2,2.82],[.25,2.78],[.3,2.8],[.36,2.75],[.42,2.7],[.15,2.66],[.2,2.66],[.24,2.64],[.29,2.66],[.34,2.6],[.38,2.55],[.44,2.5],[.14,2.52],[.18,2.5],[.23,2.52],[.27,2.5],[.32,2.45],[.37,2.42],[.14,2.38],[.18,2.38],[.22,2.36],[.27,2.38],[.31,2.35],[.36,2.3],[.41,2.25],[.13,2.25],[.17,2.25],[.21,2.24],[.25,2.26],[.3,2.22],[.34,2.2],[.12,2.12],[.16,2.12],[.2,2.12],[.24,2.13],[.28,2.12],[.33,2.1],[.38,2.05],[.11,2],[.15,2],[.19,2],[.23,2],[.27,2],[.31,1.98],[.11,1.88],[.15,1.88],[.19,1.88],[.23,1.88],[.27,1.88],[.1,1.76],[.14,1.76],[.18,1.76],[.22,1.76],[.26,1.76],[.3,1.76],[.1,1.64],[.14,1.64],[.18,1.64],[.22,1.64],[.26,1.64],[.3,1.6],[.09,1.52],[.13,1.52],[.17,1.52],[.21,1.52],[.25,1.52],[.09,1.4],[.13,1.4],[.17,1.4],[.21,1.4],[.25,1.4],[.29,1.42],[.09,1.35],[.14,1.35],[.2,1.35],[.26,1.35]];
const dUpCoreRows=[[1.46,[.11,.15,.19,.23]],[1.58,[.11,.15,.19,.23,.27]],[1.7,[.12,.16,.2,.24,.28]],[1.82,[.12,.16,.2,.25,.29]],[1.94,[.13,.17,.21,.25,.29]],[2.06,[.13,.17,.21,.25,.29,.34]],[2.18,[.14,.19,.23,.27,.32]],[2.31,[.15,.19,.23,.28,.33]],[2.45,[.16,.2,.25,.29,.34]],[2.58,[.16,.22,.26,.31,.36]],[2.73,[.18,.22,.27,.33]],[2.88,[.2,.25,.3,.35]],[3.02,[.21,.28,.34,.39]],[3.2,[.22,.27,.32,.38]],[3.4,[.24,.3,.35,.4]],[3.58,[.24,.29,.33,.38]],[3.75,[.23,.29,.35,.41]],[3.9,[.24,.3,.36]]];
const dNot=[[-.692,.82],[1.02,.9],[.73,.96],[.652,1.14],[.592,1.01],[.659,1],[.518,1.01],[.418,1.05],[.368,1.2],[.502,.86],[.518,.79],[.418,.81],[.452,.81],[.569,.75],[.619,.73],[.659,.6],[.478,.63],[.485,.54],[.569,.6],[-.559,.56],[-.515,.47],[-.592,1.19],[-.508,1.19],[-.462,1.09],[-.435,.97],[-.418,1.01],[-.441,.81],[-.318,.75],[-.3,.56],[-.268,.14],[-.294,.37],[.268,.37],[.217,.14],[.167,.14],
[-.39,1.24],[-.35,1.25],[-.31,1.23],[-.27,1.26],[-.23,1.24],[-.19,1.25],[-.15,1.23],[-.11,1.25],[-.07,1.24],[.06,1.25],[.09,1.23],[.13,1.25],[.17,1.24],[.21,1.26],[.25,1.24],[.29,1.22],[.32,1.24],
[-.4,1.12],[-.36,1.13],[-.32,1.11],[-.28,1.13],[-.24,1.11],[-.2,1.13],[-.16,1.12],[-.12,1.13],[-.08,1.11],[-.055,1.12],[.05,1.12],[.08,1.1],[.12,1.13],[.16,1.11],[.2,1.13],[.24,1.12],[.3,1.1],[.33,1.08],
[-.39,1],[-.35,.99],[-.3,1],[-.26,.98],[-.22,1],[-.18,.99],[-.14,1.01],[-.1,.99],[-.07,1],[-.045,.98],[.045,1],[.07,.98],[.11,1],[.15,.99],[.19,1.01],[.23,.99],[.27,.97],
[-.3,.87],[-.26,.88],[-.22,.86],[-.18,.88],[-.14,.87],[-.1,.88],[-.065,.86],[-.04,.88],[.04,.87],[.07,.86],[.1,.88],[.14,.87],[.18,.88],[.22,.86],[.26,.88],[.3,.86],[.33,.84],
[-.29,.75],[-.25,.74],[-.21,.76],[-.17,.74],[-.13,.76],[-.09,.75],[-.06,.76],[-.035,.74],[.035,.75],[.06,.74],[.09,.76],[.13,.74],[.17,.76],[.21,.75],[.25,.76],[.29,.74],[.34,.74],
[-.36,.6],[-.25,.62],[-.21,.63],[-.17,.62],[-.13,.64],[-.09,.62],[-.055,.63],[-.03,.61],[.03,.63],[.055,.61],[.09,.63],[.13,.62],[.17,.64],[.21,.62],[.26,.63],[.32,.6],
[-.34,.54],[-.25,.5],[-.21,.51],[-.17,.5],[-.13,.52],[-.09,.5],[-.05,.51],[-.025,.49],[.025,.51],[.05,.49],[.09,.51],[.13,.5],[.17,.52],[.21,.5],[.25,.5],[.31,.5],
[-.33,.42],[-.26,.39],[-.21,.4],[-.17,.38],[-.13,.4],[-.09,.38],[-.05,.39],[-.02,.37],[.02,.39],[.05,.37],[.09,.39],[.13,.38],[.17,.4],[.21,.38],[.25,.4],
[-.24,.27],[-.2,.26],[-.16,.28],[-.12,.26],[-.08,.28],[-.05,.26],[-.02,.27],[0,.24],[.02,.26],[.05,.28],[.08,.26],[.12,.28],[.16,.26],[.2,.27],
[-.22,.16],[-.17,.15],[-.13,.17],[-.09,.15],[-.05,.16],[-.02,.14],[.02,.16],[.05,.14],[.09,.16],[.13,.14],
[-.11,.08],[-.07,.07],[-.04,.08],[-.01,.06],[.02,.08],[.05,.06],[.08,.08],[-.02,.01],[0,0],[.02,.02]];
const dNotCoreRows=[[1.18,[-.37,-.33,-.29,-.25,-.21,-.17,-.13,-.09,-.055,.05,.085,.11,.15,.19,.23,.27]],[1.06,[-.38,-.34,-.3,-.26,-.22,-.18,-.14,-.1,-.065,-.04,.04,.065,.1,.14,.18,.22,.26]],[.93,[-.37,-.32,-.28,-.24,-.2,-.16,-.12,-.085,-.055,.055,.085,.12,.16,.2,.24,.28]],[.81,[-.28,-.24,-.2,-.16,-.12,-.08,-.05,.05,.08,.12,.16,.2,.24,.28]],[.68,[-.27,-.23,-.19,-.15,-.11,-.075,-.045,.045,.075,.11,.15,.19,.23,.27]],[.56,[-.27,-.23,-.19,-.15,-.11,-.07,-.04,.04,.07,.11,.15,.19,.235]],[.45,[-.24,-.19,-.15,-.11,-.07,-.035,.035,.07,.11,.15,.19,.22]],[.33,[-.24,-.19,-.14,-.1,-.065,-.03,.03,.065,.1,.14,.18,.21]],[.21,[-.2,-.15,-.11,-.07,-.035,0,.035,.07,.11,.15,.19]],[.11,[-.15,-.09,-.055,-.02,.02,.055,.09,.13]]];

/* ===== Panel E data ===== */
const pieNames=['Sphingolipids','Glycospholipids','Glycerophospholipids','Prenol Lipids','Glyerolipids','Glycerophosphoinositols'];
const pieValues=[19.2,7.7,61.6,3.8,3.8,3.9];

/* ===== Panel F data ===== */
const barCategories=['Other','TG','DG','PA','PC','PE','PG','PI','PS','SM','Cer','GlcCer','CL','Gal-GlcCer'];
const barUp=[3.3,1.6,0,3.3,5,10.2,1.6,1.6,0,1.6,0,0,0,1.6];
const barDown=[6.9,0,3.3,5.1,17,11.8,0,3.4,5,3.4,3.3,5,1.6,3.4];
const barYTicks=[0,5,10,15,20,25];

/* ===== helpers ===== */
const NS='http://www.w3.org/2000/svg';
function mk(tag,parent){const e=document.createElementNS(NS,tag);parent.appendChild(e);return e;}
function style(e,o){for(const k in o)e.setAttribute(k,o[k]);}
function labelText(e,label,fs){
  const p=label.split('^');
  e.textContent=p[0];
  if(p[1]){const s=mk('tspan',e);s.setAttribute('dy',-fs*0.38);s.setAttribute('font-size',fs*0.55);s.textContent=p[1];}
}
function fromRows(rows){
  const out=[];
  rows.forEach(r=>r[1].forEach(x=>out.push([x,r[0]])));
  return out;
}

/* ===== Panel A ===== */
(function(){
  const g=document.getElementById('panelA');
  const L=334,R=1286,T=77,B=1028;
  const sx=v=>677.5+v*218, sy=v=>610-v*330.7;
  scoreXTicks.forEach(v=>{
    const l=mk('line',g);
    
    
    style(l,{x1:sx(v),x2:sx(v),y1:T,y2:B,stroke:'#dcdcdc','stroke-width':3});
    const t=mk('line',g);
    
    
    style(t,{x1:sx(v),x2:sx(v),y1:B,y2:B+11,stroke:'#333','stroke-width':3});
  });
  scoreYTicks.forEach(v=>{
    const l=mk('line',g);
    
    
    style(l,{x1:L,x2:R,y1:sy(v),y2:sy(v),stroke:'#dcdcdc','stroke-width':3});
    const t=mk('line',g);
    
    
    style(t,{x1:L-11,x2:L,y1:sy(v),y2:sy(v),stroke:'#333','stroke-width':3});
  });
  const groups={ND:[scoresND,'#8fd3e3','#87d0e0',.42],model:[scoresModel,'#d77fb8','#cf85c4',.35],HSD5:[scoresHSD5,'#8c97d2','#8b9fd8',.33],HSD10:[scoresHSD10,'#e6808f','#e4708f',.38],'HSD2.5':[scoresHSD25,'#7fb895','#7cc08f',.4]};
  const K=2.4477;
  scoreGroups.forEach(name=>{
    const pts=groups[name][0],n=pts.length;
    const mx=pts.reduce((a,p)=>a+p[0],0)/n,my=pts.reduce((a,p)=>a+p[1],0)/n;
    let sxx=0,syy=0,sxy=0;
    pts.forEach(p=>{sxx+=(p[0]-mx)**2;syy+=(p[1]-my)**2;sxy+=(p[0]-mx)*(p[1]-my);});
    sxx/=n-1;syy/=n-1;sxy/=n-1;
    const a=Math.sqrt(sxx),b=sxy/a,c=Math.sqrt(Math.max(syy-b*b,0));
    let d='';
    for(let i=0;i<=90;i++){
      const t=i/90*2*Math.PI;
      const vx=mx+K*a*Math.cos(t),vy=my+K*(b*Math.cos(t)+c*Math.sin(t));
      d+=(i?'L':'M')+sx(vx).toFixed(1)+' '+sy(vy).toFixed(1);
    }
    const e=mk('path',g);
    
    
    style(e,{d:d+'Z',fill:groups[name][1],'fill-opacity':groups[name][3]});
  });
  scoreGroups.forEach(name=>{
    groups[name][0].forEach(p=>{
      const c=mk('circle',g);
      
      
      style(c,{cx:sx(p[0]),cy:sy(p[1]),r:12,fill:groups[name][2],stroke:'#111','stroke-width':2.5});
    });
  });
  const f=mk('rect',g);
  
  
  style(f,{x:L,y:T,width:R-L,height:B-T,fill:'none',stroke:'#333','stroke-width':3.5});
  scoreXTicks.forEach((v,i)=>{
    const t=mk('text',g);
    
    
    style(t,{x:sx(v)+(v<0?8:v===0?2:v===1?-10:12),y:1090,'text-anchor':'middle','font-size':37});
    labelText(t,scoreXLabels[i],37);
  });
  scoreYTicks.forEach((v,i)=>{
    const t=mk('text',g);
    
    
    style(t,{transform:'translate(309 '+(sy(v)-(v===0?0:2))+') rotate(-90)','text-anchor':'middle','font-size':34});
    if(v!==0)style(t,{textLength:v<0?136:126,lengthAdjust:'spacingAndGlyphs'});
    labelText(t,scoreYLabels[i],34);
  });
})();

/* ===== Volcano drawing ===== */
function volcano(id,cfg,down,up,not,xTicks,xLabels,yTicks,yLabels){
  const g=document.getElementById(id);
  const {L,R,T,B,x0,xu,y0,yu,r,minorX,minorY}=cfg;
  const sx=v=>x0+v*xu, sy=v=>y0-v*yu;
  minorX.forEach(v=>{
    const l=mk('line',g);
    
    
    style(l,{x1:sx(v),x2:sx(v),y1:T,y2:B,stroke:'#f1f1f1','stroke-width':2});
  });
  minorY.forEach(v=>{
    const l=mk('line',g);
    
    
    style(l,{x1:L,x2:R,y1:sy(v),y2:sy(v),stroke:'#f1f1f1','stroke-width':2});
  });
  xTicks.forEach(v=>{
    const l=mk('line',g);
    
    
    style(l,{x1:sx(v),x2:sx(v),y1:T,y2:B,stroke:'#e9e9e9','stroke-width':3});
  });
  yTicks.forEach(v=>{
    const l=mk('line',g);
    
    
    style(l,{x1:L,x2:R,y1:sy(v),y2:sy(v),stroke:'#e9e9e9','stroke-width':3});
  });
  not.forEach(p=>{
    const c=mk('circle',g);
    
    
    style(c,{cx:sx(p[0]),cy:sy(p[1]),r:r,fill:'#7f8a8a'});
  });
  down.forEach(p=>{
    const c=mk('circle',g);
    
    
    style(c,{cx:sx(p[0]),cy:sy(p[1]),r:r,fill:'#4db3cf'});
  });
  up.forEach(p=>{
    const c=mk('circle',g);
    
    
    style(c,{cx:sx(p[0]),cy:sy(p[1]),r:r,fill:'#e04a33'});
  });
  [-0.08,0.08].forEach(v=>{
    const l=mk('line',g);
    
    
    style(l,{x1:sx(v),x2:sx(v),y1:T,y2:B,stroke:'#b9b9b9','stroke-width':5.5,'stroke-dasharray':'42 12 10 12'});
  });
  const h=mk('line',g);
  
  
  style(h,{x1:L,x2:R,y1:sy(1.3),y2:sy(1.3),stroke:'#b9b9b9','stroke-width':5.5,'stroke-dasharray':'42 12 10 12'});
  const f=mk('rect',g);
  
  
  style(f,{x:L,y:T,width:R-L,height:B-T,fill:'none',stroke:'#666','stroke-width':3});
  xTicks.forEach((v,i)=>{
    const t=mk('text',g);
    
    
    style(t,{x:sx(v)+(v<0?(id==='panelC'?0:-8):(v===0?-6:(id==='panelC'?(v===1?4:-10):6))),y:cfg.xLabelY,'text-anchor':'middle','font-size':47});
    t.textContent=xLabels[i];
    const u=mk('line',g);
    
    
    style(u,{x1:sx(v),x2:sx(v),y1:B,y2:B+9,stroke:'#666','stroke-width':3});
  });
  yTicks.forEach((v,i)=>{
    const t=mk('text',g);
    
    
    style(t,{x:cfg.yLabelX,y:sy(v)+17,'text-anchor':'end','font-size':48});
    t.textContent=yLabels[i];
    const u=mk('line',g);
    
    
    style(u,{x1:L-9,x2:L,y1:sy(v),y2:sy(v),stroke:'#666','stroke-width':3});
  });
}
volcano('panelC',{L:409,R:1187,T:1284,B:2220,x0:724,xu:231.6,y0:2178,yu:94.9,r:7,xLabelY:2277,yLabelX:384,minorX:[-.5,.5,1.5],minorY:[1,3,5,7,9]},cDown.concat(fromRows(cDownCoreRows)),cUp.concat(fromRows(cUpCoreRows)),cNot.concat(fromRows(cNotCoreRows)),cXTicks,cXLabels,cYTicks,cYLabels);
volcano('panelD',{L:1917,R:2856.5,T:1284,B:2214.5,x0:2307,xu:276.6,y0:2172.5,yu:99.6,r:6.5,xLabelY:2275,yLabelX:1896,minorX:[-.5,.5,1.5],minorY:[1,3,5,7]},dDown.concat(fromRows(dDownCoreRows)),dUp.concat(fromRows(dUpCoreRows)),dNot.concat(fromRows(dNotCoreRows)),dXTicks,dXLabels,dYTicks,dYLabels);

/* ===== Panel E ===== */
(function(){
  const g=document.getElementById('panelE');
  const cx=702.5,cy=3018.5,r=483;
  const colors=['#3476ad','#ef7c19','#d7211d','#f2e94a','#8e4a97','#4fa84c'];
  const total=pieValues.reduce((a,b)=>a+b,0);
  let acc=0;
  pieValues.forEach((v,i)=>{
    const a0=acc/total*2*Math.PI;acc+=v;const a1=acc/total*2*Math.PI;
    const px=a=>cx+r*Math.sin(a),py=a=>cy-r*Math.cos(a);
    const p=mk('path',g);
    
    
    style(p,{d:'M'+cx+' '+cy+'L'+px(a0).toFixed(1)+' '+py(a0).toFixed(1)+'A'+r+' '+r+' 0 '+((a1-a0)>Math.PI?1:0)+' 1 '+px(a1).toFixed(1)+' '+py(a1).toFixed(1)+'Z',fill:colors[i]});
  });
})();

/* ===== Panel F ===== */
(function(){
  const g=document.getElementById('panelF');
  const X0=1912,STEP=78.25,W=44,Y0=3330.6,U=35.46;
  const sy=v=>Y0-v*U;
  const labelShift={Other:-10,GlcCer:5,CL:8,'Gal-GlcCer':51};
  barCategories.forEach((c,i)=>{
    const x=X0+i*STEP;
    const tot=barUp[i]+barDown[i];
    if(barDown[i]>0){
      const d=mk('rect',g);
      
      
      style(d,{x:x-W/2,y:sy(tot),width:W,height:barDown[i]*U,fill:'#e37a30',stroke:'#aaa','stroke-width':1.5});
    }
    if(barUp[i]>0){
      const u=mk('rect',g);
      
      
      style(u,{x:x-W/2,y:sy(barUp[i]),width:W,height:barUp[i]*U,fill:'#3f6db5',stroke:'#888','stroke-width':1.5});
    }
    const t=mk('line',g);
    
    
    style(t,{x1:x,x2:x,y1:Y0,y2:Y0+20,stroke:'#333','stroke-width':3});
    const l=mk('text',g);
    
    
    style(l,{x:x+(labelShift[c]||0),y:3377,'text-anchor':'middle','font-size':32});
    l.textContent=c;
  });
  const ax=mk('path',g);
  
  
  style(ax,{d:'M1873.4 2444V3330.6M1861 3330.6H2970',stroke:'#333','stroke-width':3,fill:'none'});
  barYTicks.forEach(v=>{
    const t=mk('line',g);
    
    
    style(t,{x1:1859,x2:1873,y1:sy(v),y2:sy(v),stroke:'#333','stroke-width':3});
    if(v<25){
      const m=mk('line',g);
      
      
      style(m,{x1:1865,x2:1873,y1:sy(v+2.5),y2:sy(v+2.5),stroke:'#333','stroke-width':3});
    }
    const l=mk('text',g);
    
    
    style(l,{x:1846,y:sy(v)+(v===0?-2:13),'text-anchor':'end','font-size':38});
    l.textContent=v;
  });
})();
</script>
</body></html>
